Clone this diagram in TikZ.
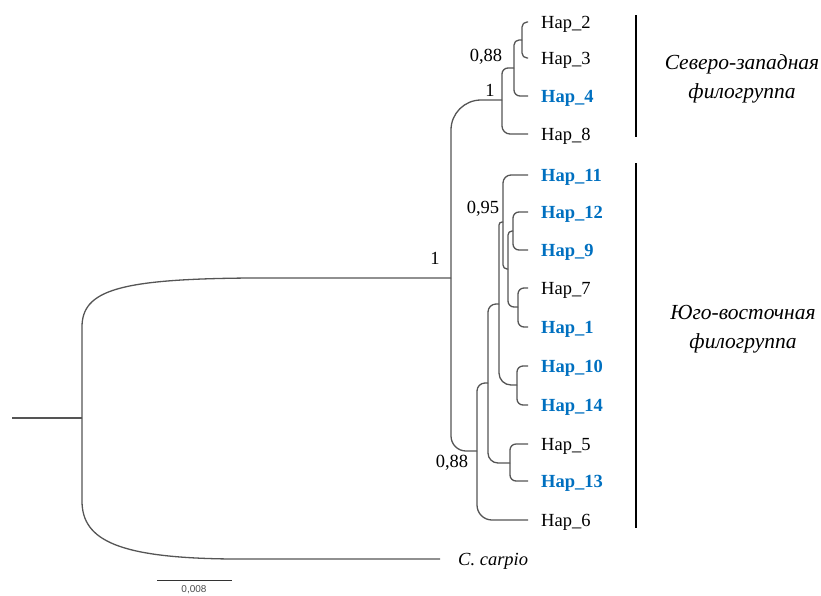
\documentclass[tikz,border=0pt]{standalone}
\usepackage{fontspec}
\setmainfont{Liberation Serif}
\newfontfamily\lsans{Liberation Sans}
\usetikzlibrary{calc}
\definecolor{hapblue}{HTML}{0070C0}
\definecolor{linegray}{HTML}{555555}
\begin{document}
\begin{tikzpicture}[x=1pt,y=-1pt,
  ln/.style={draw=linegray, line width=1.3pt},
  br/.style={ln, rounded corners=#1},
  br/.default=6,
  tip/.style={anchor=base west, inner sep=0pt, font=\fontsize{18.5}{22}\selectfont},
  hb/.style={anchor=base west, inner sep=0pt, text=hapblue, font=\fontsize{18.5}{22}\selectfont\bfseries},
  sup/.style={inner sep=0pt, font=\fontsize{18.5}{22}\selectfont},
  grp/.style={anchor=base, inner sep=0pt, font=\fontsize{21.5}{25}\selectfont\itshape},
  bar/.style={draw=black, line width=2pt}
]
\useasboundingbox (0,0) rectangle (821,595);
% tips
\coordinate (t2) at (528,22);
\coordinate (t3) at (528,58);
\coordinate (t4) at (528,96);
\coordinate (t8) at (528,134);
\coordinate (t11) at (528,175);
\coordinate (t12) at (528,212);
\coordinate (t9) at (528,250);
\coordinate (t7) at (528,288);
\coordinate (t1) at (528,327);
\coordinate (t10) at (528,366);
\coordinate (t14) at (528,405);
\coordinate (t5) at (528,444);
\coordinate (t13) at (528,481);
\coordinate (t6) at (528,520);
\coordinate (tc) at (440,559);
% internal nodes
\coordinate (A) at (522,40);
\coordinate (B) at (514,68);
\coordinate (C) at (502,100);
\coordinate (D) at (513,231);
\coordinate (E) at (518,307);
\coordinate (F) at (508,269);
\coordinate (G) at (503,222);
\coordinate (H) at (517,385);
\coordinate (Iq) at (499,304);
\coordinate (J) at (510,463);
\coordinate (K) at (488,383);
\coordinate (L) at (477,451);
\coordinate (M) at (451,278);
\coordinate (R0) at (12,418);
\coordinate (R) at (82,418);
% branches
\draw[br=5] (A) -- (A|-t2) -- (t2);
\draw[br=5] (A) -- (A|-t3) -- (t3);
\draw[br=5] (B) -- (B|-A) -- (A);
\draw[br=6] (B) -- (B|-t4) -- (t4);
\draw[br=6] (C) -- (C|-B) -- (B);
\draw[br=8] (C) -- (C|-t8) -- (t8);
\draw[br=30] (M) -- (M|-C) -- (C);
\draw[br=15] (M) -- (M|-L) -- (L);
\draw[br=8] (L) -- (L|-K) -- (K);
\draw[br=15] (L) -- (L|-t6) -- (t6);
\draw[br=8] (K) -- (K|-Iq) -- (Iq);
\draw[br=10] (K) -- (K|-J) -- (J);
\draw[br=6] (J) -- (J|-t5) -- (t5);
\draw[br=6] (J) -- (J|-t13) -- (t13);
\draw[br=3] (Iq) -- (Iq|-G) -- (G);
\draw[br=12] (Iq) -- (Iq|-H) -- (H);
\draw[br=6] (H) -- (H|-t10) -- (t10);
\draw[br=6] (H) -- (H|-t14) -- (t14);
\draw[br=8] (G) -- (G|-t11) -- (t11);
\draw[br=4] (G) -- (G|-F) -- (F);
\draw[br=4] (F) -- (F|-D) -- (D);
\draw[br=6] (F) -- (F|-E) -- (E);
\draw[br=6] (D) -- (D|-t12) -- (t12);
\draw[br=6] (D) -- (D|-t9) -- (t9);
\draw[br=6] (E) -- (E|-t7) -- (t7);
\draw[br=6] (E) -- (E|-t1) -- (t1);
% root
\draw[ln] (R0) -- (R);
\draw[ln] (R) -- ($(R|-M)+(0,49)$) .. controls ($(R|-M)+(0,12)$) and ($(R|-M)+(38,1)$) .. ($(R|-M)+(168,0)$) -- (M);
\draw[ln] (R) -- ($(R|-tc)+(0,-58)$) .. controls ($(R|-tc)+(0,-18)$) and ($(R|-tc)+(38,-1)$) .. ($(R|-tc)+(150,0)$) -- (tc);
% tip labels
\node[tip] (l2) at (541,28.5) {Hap\_2};
\node[tip] (l3) at (541,64.5) {Hap\_3};
\node[hb] (l4) at (541,102.5) {Hap\_4};
\node[tip] (l8) at (541,140.5) {Hap\_8};
\node[hb] (l11) at (541,181.5) {Hap\_11};
\node[hb] (l12) at (541,218.5) {Hap\_12};
\node[hb] (l9) at (541,256.5) {Hap\_9};
\node[tip] (l7) at (541,294.5) {Hap\_7};
\node[hb] (l1) at (541,333.5) {Hap\_1};
\node[hb] (l10) at (541,372.5) {Hap\_10};
\node[hb] (l14) at (541,411.5) {Hap\_14};
\node[tip] (l5) at (541,450.5) {Hap\_5};
\node[hb] (l13) at (541,487.5) {Hap\_13};
\node[tip] (l6) at (541,526.5) {Hap\_6};
\node[tip, font=\fontsize{18.5}{22}\selectfont\itshape] (lc) at (458,565.5) {C. carpio};
% support values
\node[sup] (s1) at (486,57) {0,88};
\node[sup] (s2) at (490,90) {1};
\node[sup] (s3) at (483,209) {0,95};
\node[sup] (s4) at (435,258) {1};
\node[sup] (s5) at (452,463) {0,88};
% group bars and labels
\coordinate (b1a) at (636,15);
\coordinate (b1b) at (636,137);
\coordinate (b2a) at (636,163);
\coordinate (b2b) at (636,528);
\draw[bar] (b1a) -- (b1b);
\draw[bar] (b2a) -- (b2b);
\node[grp] (g1a) at (742,69) {Северо-западная};
\node[grp] (g1b) at (742,98) {филогруппа};
\node[grp] (g2a) at (743,319) {Юго-восточная};
\node[grp] (g2b) at (743,348) {филогруппа};
% scale bar
\coordinate (sb1) at (157,580);
\coordinate (sb2) at (232,580);
\draw[draw=black!80, line width=1pt] (sb1) -- (sb2);
\node[anchor=north, inner sep=0pt, text=black!70, font=\lsans\fontsize{10}{12}\selectfont] (sbl) at (194,585) {0,008};
\end{tikzpicture}
\end{document}
